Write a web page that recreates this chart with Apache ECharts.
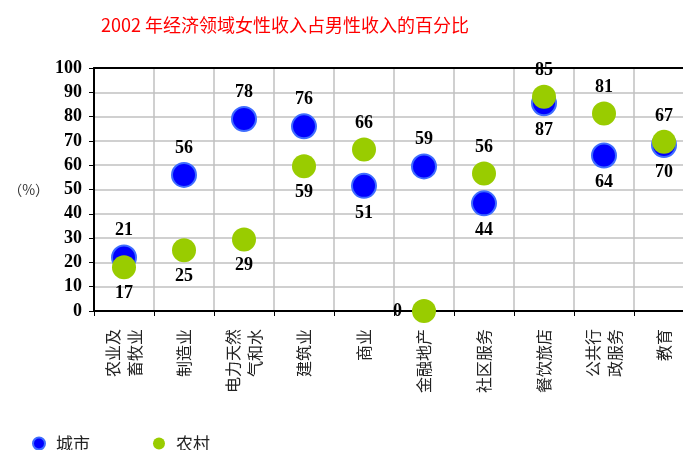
<!DOCTYPE html>
<html>
<head>
<meta charset="utf-8">
<script src="https://cdn.jsdelivr.net/npm/echarts@6/dist/echarts.min.js"></script>
<style>
  html, body { margin: 0; padding: 0; background: #fff; }
  #chart { width: 683px; height: 450px; }
</style>
</head>
<body>
<div id="chart"></div>
<script>
// 行业分类
var categories = ['农业及\n畜牧业', '制造业', '电力天然\n气和水', '建筑业', '商业',
                  '金融地产', '社区服务', '餐饮旅店', '公共行\n政服务', '教育'];
// 点的位置
var cityValues  = [22, 56, 79, 76, 51.5, 59.5, 44.3, 85.5, 64, 68.3];
var ruralValues = [18, 25, 29.4, 59.6, 66.5, 0, 56.6, 88.2, 81.3, 69.6];
// 图上标注的数字
var cityLabels  = [21, 56, 78, 76, 51, 59, 44, 87, 64, 70];
var ruralLabels = [17, 25, 29, 59, 66, 0, 56, 85, 81, 67];
var yTicks = [0, 100, 10]; // min, max, interval

var numFont = { fontFamily: '"Liberation Serif", "Times New Roman", serif', fontWeight: 'bold', fontSize: 18, color: '#000' };

function buildData(values, labels, other) {
    return values.map(function (v, i) {
        var pos = v >= other[i] ? 'top' : 'bottom';
        if (v === 0) pos = 'left';
        return {
            value: v,
            label: { position: pos, formatter: String(labels[i]), distance: pos === 'left' ? 10 : 5 }
        };
    });
}

var myChart = echarts.init(document.getElementById('chart'));
myChart.setOption({
    animation: false,
    title: {
        text: '2002 年经济领域女性收入占男性收入的百分比',
        left: 96, top: 11,
        textStyle: { color: '#ff0000', fontSize: 18, fontWeight: 'normal', fontFamily: '"Noto Sans CJK SC", sans-serif' }
    },
    legend: {
        left: 27, top: 430,
        itemWidth: 12, itemHeight: 12, itemGap: 63,
        icon: 'circle',
        textStyle: { fontSize: 17, color: '#222', padding: [0, 0, 0, 6], fontFamily: '"Noto Sans CJK SC", serif' },
        data: ['城市', '农村']
    },
    grid: { left: 94, top: 68, width: 600, height: 243, outerBoundsMode: 'none' },
    xAxis: [{
        type: 'category',
        data: categories,
        axisLine: { lineStyle: { color: '#000', width: 2 } },
        axisTick: { show: true, length: 5, lineStyle: { color: '#000' } },
        splitLine: { show: true, lineStyle: { color: '#c0c0c0', width: 1.5 } },
        axisLabel: {
            interval: 0, rotate: 90, margin: 18, fontSize: 16, lineHeight: 22,
            color: '#222', fontFamily: '"Noto Sans CJK SC", serif'
        }
    }, {
        type: 'category',
        position: 'top',
        data: categories,
        axisLine: { lineStyle: { color: '#000', width: 2 } },
        axisTick: { show: false },
        axisLabel: { show: false }
    }],
    yAxis: {
        type: 'value',
        min: yTicks[0], max: yTicks[1], interval: yTicks[2],
        name: '（%）',
        nameLocation: 'middle',
        nameRotate: 0,
        nameGap: 44,
        nameTextStyle: { fontSize: 14, color: '#333', fontFamily: '"Noto Sans CJK SC", serif' },
        axisLine: { show: true, lineStyle: { color: '#000', width: 2 } },
        axisTick: { show: true, length: 5, lineStyle: { color: '#000' } },
        splitLine: { show: true, lineStyle: { color: '#c0c0c0', width: 1.5 } },
        axisLabel: Object.assign({ margin: 12 }, numFont)
    },
    series: [{
        name: '城市',
        type: 'scatter',
        symbolSize: 24,
        itemStyle: { color: '#0000ff', borderColor: '#3f6dff', borderWidth: 2, opacity: 1 },
        label: Object.assign({ show: true }, numFont),
        data: buildData(cityValues, cityLabels, ruralValues)
    }, {
        name: '农村',
        type: 'scatter',
        symbolSize: 24,
        itemStyle: { color: '#99cc00', opacity: 1 },
        label: Object.assign({ show: true }, numFont),
        data: buildData(ruralValues, ruralLabels, cityValues)
    }]
});
</script>
</body>
</html>
